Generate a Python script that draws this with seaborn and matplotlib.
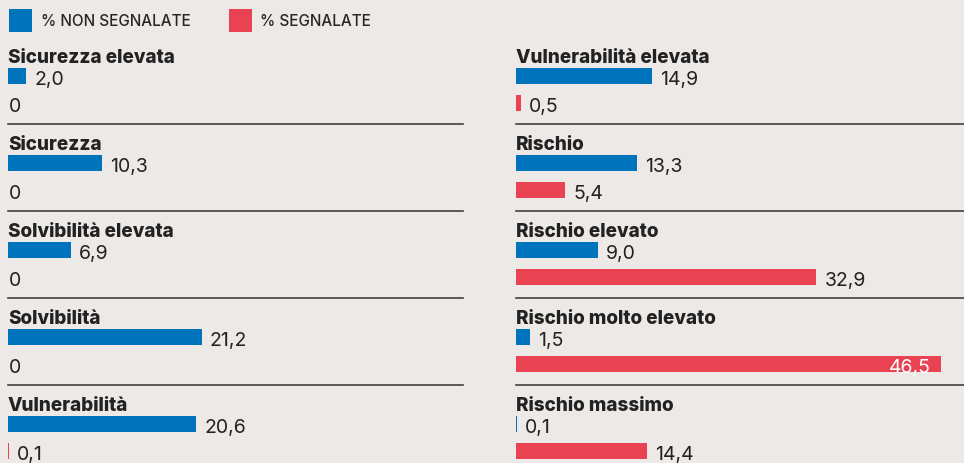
import matplotlib.pyplot as plt
import seaborn as sns
import pandas as pd
from matplotlib.patches import Patch

# Values
left_categories = ["Sicurezza elevata", "Sicurezza", "Solvibilità elevata", "Solvibilità", "Vulnerabilità"]
left_non_segnalate = [2.0, 10.3, 6.9, 21.2, 20.6]
left_segnalate = [0, 0, 0, 0, 0.1]

right_categories = ["Vulnerabilità elevata", "Rischio", "Rischio elevato", "Rischio molto elevato", "Rischio massimo"]
right_non_segnalate = [14.9, 13.3, 9.0, 1.5, 0.1]
right_segnalate = [0.5, 5.4, 32.9, 46.5, 14.4]

series_labels = ["% NON SEGNALATE", "% SEGNALATE"]

BLUE = "#0073bd"
RED = "#e84253"
BG = "#ece9e7"
INK = "#222222"

sns.set_style("white", {"axes.facecolor": BG, "figure.facecolor": BG})
plt.rcParams["font.family"] = ["Inter", "DejaVu Sans"]

W, H = 964, 464
fig = plt.figure(figsize=(W / 100, H / 100), dpi=100)

PX_PER_UNIT = 9.13
PANEL_STEP = 87
columns = [
    (8, 455, left_categories, left_non_segnalate, left_segnalate),
    (516, 448, right_categories, right_non_segnalate, right_segnalate),
]


def fmt(v):
    return f"{v:.1f}".replace(".", ",") if v else "0"


for x0, width, cats, non, seg in columns:
    for i, cat in enumerate(cats):
        bottom = 125 + PANEL_STEP * i
        ax = fig.add_axes([x0 / W, 1 - bottom / H, width / W, 62 / H])
        df = pd.DataFrame({"serie": series_labels, "valore": [non[i], seg[i]]})
        sns.barplot(data=df, x="valore", y="serie", hue="serie",
                    palette=[BLUE, RED], orient="h", width=0.59,
                    legend=False, ax=ax, saturation=1, linewidth=0)
        ax.set_xlim(0, width / PX_PER_UNIT)
        ax.set_ylim(1.778, -0.519)
        ax.set_xlabel("")
        ax.set_ylabel("")
        ax.set_xticks([])
        ax.set_yticks([])
        for s in ["top", "left", "right"]:
            ax.spines[s].set_visible(False)
        if i == len(cats) - 1:
            ax.spines["bottom"].set_visible(False)
        else:
            ax.spines["bottom"].set_color("#404040")
            ax.spines["bottom"].set_linewidth(1.2)
        ax.text(0, 1.0, cat, transform=ax.transAxes, ha="left", va="baseline",
                fontsize=13.6, fontweight=800, color=INK)
        for pos, v in enumerate([non[i], seg[i]]):
            if v > 40:
                ax.annotate(fmt(v), (v, pos), xytext=(-7, -2.2), textcoords="offset points",
                            ha="right", va="center", fontsize=14, color="white")
            else:
                off = 5.8 if v else 0.8
                ax.annotate(fmt(v), (v, pos), xytext=(off, -2.2), textcoords="offset points",
                            ha="left", va="center", fontsize=14, color=INK)

handles = [Patch(facecolor=BLUE, label=series_labels[0]),
           Patch(facecolor=RED, label=series_labels[1])]
fig.legend(handles=handles, loc="upper left", bbox_to_anchor=(9 / W, 1 - 10 / H),
           ncol=2, frameon=False, handlelength=1.5, handleheight=1.94,
           handletextpad=0.58, columnspacing=2.5, borderaxespad=0, borderpad=0,
           prop={"size": 11, "weight": "medium"})
for h in fig.legends[0].legend_handles:
    h.set_linewidth(0)

fig.savefig("out.png", dpi=100, facecolor=BG)
